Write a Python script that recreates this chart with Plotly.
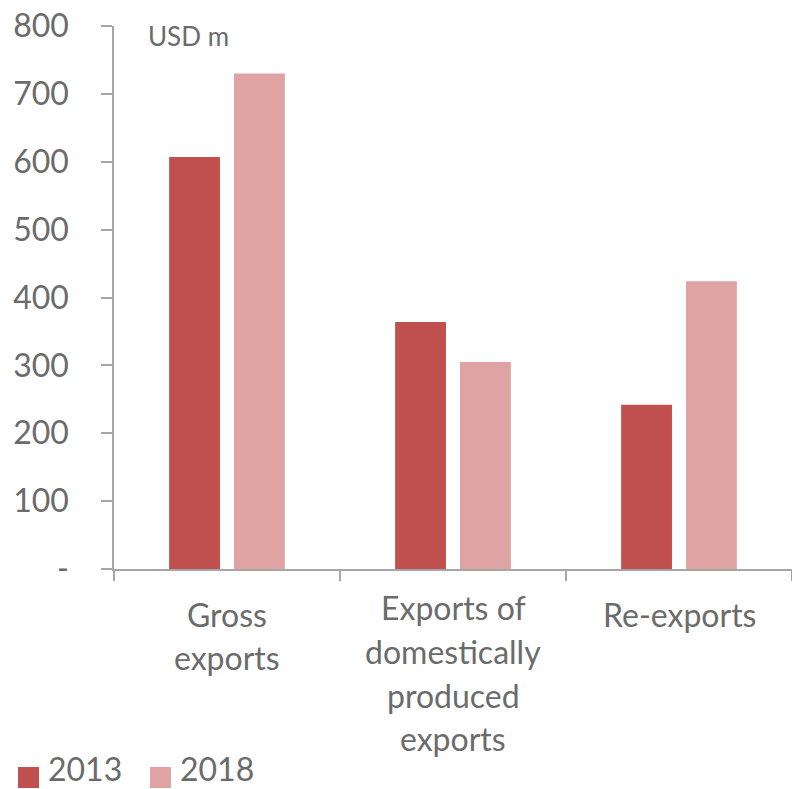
import plotly.graph_objects as go

# Export values, USD million
categories = ["Gross exports", "Exports of domestically produced exports", "Re-exports"]
category_lines = [["Gross", "exports"],
                  ["Exports of", "domestically", "produced", "exports"],
                  ["Re-exports"]]
years = ["2013", "2018"]
values_2013 = [607, 364, 242]
values_2018 = [730, 305, 424]
y_tickvals = [0, 100, 200, 300, 400, 500, 600, 700, 800]
y_ticktext = ["-", "100", "200", "300", "400", "500", "600", "700", "800"]
unit_label = "USD m"

W, H = 792, 789
ML, MR, MT, MB = 114, 0, 26, 220
PW, PH = W - ML - MR, H - MT - MB

def px_x(px):
    return (px - ML) / PW

def px_y(py):
    return (H - MB - py) / PH

FONT = "Lato"
GREY = "#6b6b6b"
AXIS = "#a6a6a6"
colors = ["#C0504D", "#DFA3A3"]

fig = go.Figure()
for vals, name, col, off in zip([values_2013, values_2018], years, colors, [-0.256, 0.031]):
    fig.add_trace(go.Bar(
        x=categories, y=vals, name=name,
        marker=dict(color=col, line=dict(width=0)),
        width=0.225, offset=off, showlegend=False,
    ))

annotations = []
# multi-line category labels under the x axis
line_y = {0: [614, 657], 1: [607, 651, 695, 739], 2: [614]}
for i, (cat, lines) in enumerate(zip(categories, category_lines)):
    for j, line in enumerate(lines):
        annotations.append(dict(
            x=cat, xref="x", y=px_y(line_y[i][j]), yref="paper",
            text=line, showarrow=False, xanchor="center", yanchor="middle",
            font=dict(family=FONT, size=32, color=GREY),
        ))

# unit label in the top-left of the plot
annotations.append(dict(
    x=px_x(146), y=px_y(36), xref="paper", yref="paper",
    text=unit_label, showarrow=False, xanchor="left", yanchor="middle",
    font=dict(family=FONT, size=26, color=GREY),
))

# custom legend with large square swatches
shapes = []
legend_x = [18, 150]
for name, col, lx in zip(years, colors, legend_x):
    shapes.append(dict(
        type="rect", xref="paper", yref="paper",
        x0=px_x(lx), x1=px_x(lx + 21), y0=px_y(788), y1=px_y(767),
        fillcolor=col, line=dict(width=0),
    ))
    annotations.append(dict(
        x=px_x(lx + 29), y=px_y(788.5), xref="paper", yref="paper",
        text=name, showarrow=False, xanchor="left", yanchor="bottom",
        borderpad=0,
        font=dict(family=FONT, size=32, color=GREY),
    ))

fig.update_layout(
    width=W, height=H,
    margin=dict(l=ML, r=MR, t=MT, b=MB, pad=0),
    paper_bgcolor="white", plot_bgcolor="white",
    barmode="overlay",
    font=dict(family=FONT, color=GREY),
    annotations=annotations, shapes=shapes,
    showlegend=False,
    xaxis=dict(
        type="category", range=[-0.5, 2.5],
        showline=True, linecolor=AXIS, linewidth=1.5,
        ticks="outside", tickson="boundaries", ticklen=10,
        tickcolor=AXIS, tickwidth=1.5,
        showticklabels=False, showgrid=False, zeroline=False,
    ),
    yaxis=dict(
        range=[0, 800], tickvals=y_tickvals, ticktext=y_ticktext,
        showline=True, linecolor=AXIS, linewidth=1.5,
        ticks="outside", ticklen=11, tickcolor=AXIS, tickwidth=1.5,
        ticklabelstandoff=26,
        tickfont=dict(family=FONT, size=32, color=GREY),
        showgrid=False, zeroline=False,
    ),
)

fig.write_html("out.html")
